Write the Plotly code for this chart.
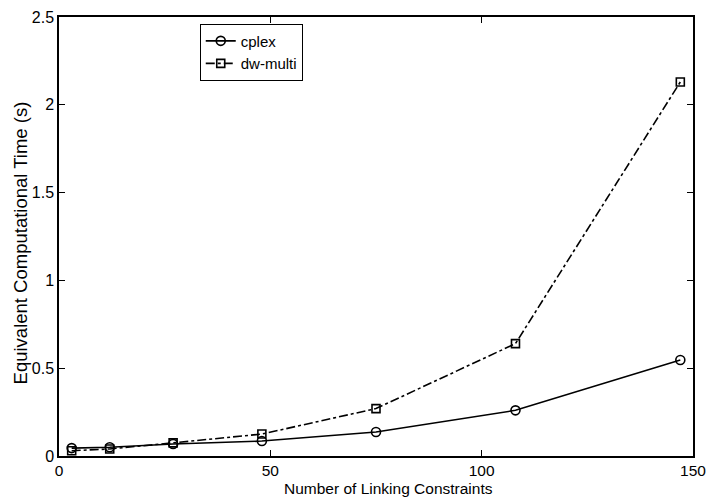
import plotly.graph_objects as go

# Number of linking constraints tested
constraints = [3, 12, 27, 48, 75, 108, 147]
# Equivalent computational time (s) per solver
cplex_time = [0.045, 0.05, 0.068, 0.085, 0.137, 0.26, 0.547]
dw_multi_time = [0.03, 0.04, 0.075, 0.125, 0.27, 0.64, 2.13]

x_ticks = [0, 50, 100, 150]
y_ticks = [0, 0.5, 1, 1.5, 2, 2.5]
y_tick_text = ["0", "0.5", "1", "1.5", "2", "2.5"]

font_family = "Liberation Sans, Arial, Helvetica, sans-serif"

fig = go.Figure()
fig.add_trace(go.Scatter(
    x=constraints, y=cplex_time, name="cplex",
    mode="lines+markers",
    line=dict(color="black", width=1.6, dash="solid"),
    marker=dict(symbol="circle-open", size=9, color="black", line=dict(width=1.6)),
))
fig.add_trace(go.Scatter(
    x=constraints, y=dw_multi_time, name="dw-multi",
    mode="lines+markers",
    line=dict(color="black", width=1.6, dash="dashdot"),
    marker=dict(symbol="square-open", size=8, color="black", line=dict(width=1.6)),
))

axis_common = dict(
    showgrid=False, zeroline=False, automargin=False,
    showline=True, linecolor="black", linewidth=1.5, mirror="ticks",
    ticks="inside", ticklen=6, tickwidth=1.2, tickcolor="black",
)

fig.update_layout(
    width=710, height=497,
    margin=dict(l=59, r=17, t=17, b=41),
    paper_bgcolor="white", plot_bgcolor="white",
    font=dict(family=font_family, color="black"),
    xaxis=dict(range=[0, 150], tickvals=x_ticks, ticklabelstandoff=0,
               tickfont=dict(family=font_family, size=15.5, color="black"),
               **axis_common),
    yaxis=dict(range=[0, 2.5], tickvals=y_ticks, ticktext=y_tick_text,
               ticklabelstandoff=0,
               tickfont=dict(family=font_family, size=16, color="black"),
               **axis_common),
    legend=dict(
        x=0.222, y=0.985, xanchor="left", yanchor="top",
        bordercolor="black", borderwidth=1, bgcolor="white",
        font=dict(family=font_family, size=15, color="black"),
        tracegroupgap=0, itemwidth=30,
    ),
    showlegend=True,
    annotations=[
        dict(text="Number of Linking Constraints", xref="paper", yref="paper",
             x=0.519, y=-0.073, xanchor="center", yanchor="middle", borderpad=0,
             showarrow=False, font=dict(family=font_family, size=15.5, color="black")),
        dict(text="Equivalent Computational Time (s)", xref="paper", yref="paper",
             x=-0.061, y=0.485, xanchor="center", yanchor="middle", textangle=-90,
             showarrow=False, font=dict(family=font_family, size=18.5, color="black")),
    ],
)

fig.write_html("out.html")
